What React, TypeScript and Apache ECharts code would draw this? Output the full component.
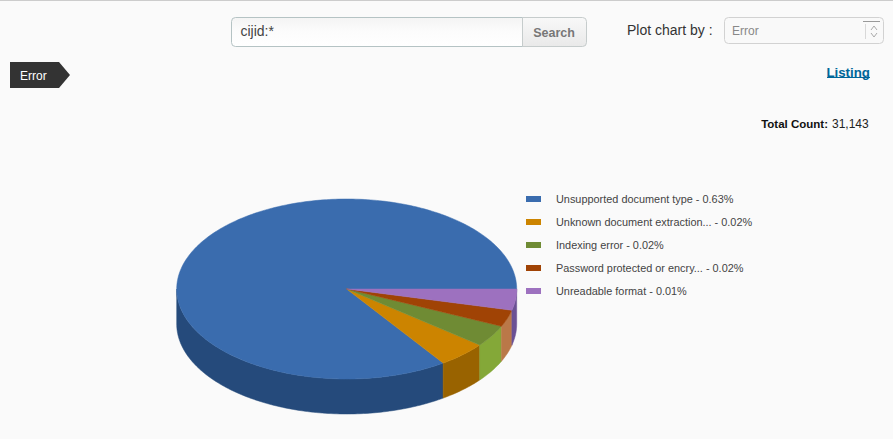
import React, { useEffect, useRef } from "react";
import * as echarts from "echarts";

const categories = [
  "Unsupported document type",
  "Unknown document extraction...",
  "Indexing error",
  "Password protected or encry...",
  "Unreadable format",
];
const legendPercents = ["0.63%", "0.02%", "0.02%", "0.02%", "0.01%"];
// slice sizes, in percent of the full circle
const sliceValues = [84.6, 4.7, 3.9, 3.0, 3.8];
const topColors = ["#3a6cae", "#cc8400", "#6f8b34", "#a04305", "#9d71bf"];
const sideColors = ["#254a7b", "#996300", "#84a838", "#ba7848", "#6b5194"];
const searchText = "cijid:*";
const tagText = "Error";
const totalCount = "31,143";

const FONT = "Arial, 'Liberation Sans', sans-serif";
const CX = 346.7, CY = 289, RX = 170, RY = 90, DEPTH = 35;

function rim(deg: number, dy = 0): number[] {
  const t = (deg * Math.PI) / 180;
  return [CX + RX * Math.cos(t), CY + RY * Math.sin(t) + dy];
}

function arcPoints(a0: number, a1: number, dy = 0): number[][] {
  const n = Math.max(2, Math.ceil(Math.abs(a1 - a0)));
  const out: number[][] = [];
  for (let i = 0; i <= n; i++) out.push(rim(a0 + ((a1 - a0) * i) / n, dy));
  return out;
}

function sliceRanges() {
  const total = sliceValues.reduce((s, v) => s + v, 0);
  let cum = 0;
  return sliceValues.map((v) => {
    const start = 360 - (cum / total) * 360;
    cum += v;
    return [360 - (cum / total) * 360, start];
  });
}

function renderSlice(i: number) {
  return (_p: any, api: any) => {
    const a0 = api.value(0) as number;
    const a1 = api.value(1) as number;
    const children: any[] = [];
    const s0 = Math.max(a0, 0);
    const s1 = Math.min(a1, 180);
    // the wall is visible on the front half of the ellipse only
    if (a0 < 180 && s1 > s0) {
      children.push({
        type: "polygon",
        shape: { points: [...arcPoints(s0, s1), ...arcPoints(s1, s0, DEPTH)] },
        style: { fill: sideColors[i], stroke: sideColors[i], lineWidth: 0.5 },
      });
    }
    children.push({
      type: "polygon",
      shape: { points: [[CX, CY], ...arcPoints(a0, a1)] },
      style: { fill: topColors[i], stroke: topColors[i], lineWidth: 0.5 },
    });
    return { type: "group", children };
  };
}

export default function App() {
  const ref = useRef<HTMLDivElement>(null);
  useEffect(() => {
    const chart = echarts.init(ref.current!, undefined, { renderer: "svg" });
    const ranges = sliceRanges();
    const labelOf = (name: string) => {
      const i = categories.indexOf(name);
      return `${name} - ${legendPercents[i]}`;
    };
    chart.setOption({
      animation: false,
      backgroundColor: "#fafafa",
      legend: {
        show: true,
        orient: "vertical",
        left: 526,
        top: 192,
        padding: 0,
        itemWidth: 15,
        itemHeight: 6,
        itemGap: 9,
        icon: "rect",
        selectedMode: false,
        data: categories,
        formatter: labelOf,
        textStyle: {
          fontFamily: FONT,
          fontSize: 10.9,
          color: "#444",
          padding: [0, 0, 0, 10],
          lineHeight: 14,
        },
      },
      series: categories.map((name, i) => ({
        type: "custom",
        name,
        coordinateSystem: "none",
        silent: true,
        itemStyle: { color: topColors[i] },
        data: [ranges[i]],
        renderItem: renderSlice(i),
      })),
      graphic: [
        { type: "rect", shape: { x: 0, y: 0, width: 893, height: 1 }, style: { fill: "#cccccc" } },
        // search box
        {
          type: "rect",
          shape: { x: 231.5, y: 17.5, width: 292, height: 29, r: [4, 0, 0, 4] },
          style: {
            fill: new echarts.graphic.LinearGradient(0, 0, 0, 1, [
              { offset: 0, color: "#f4f4f4" },
              { offset: 0.5, color: "#fcfcfc" },
              { offset: 1, color: "#ffffff" },
            ]),
            stroke: "#b5c3c4",
          },
        },
        { type: "text", x: 240.5, y: 31, style: { text: searchText, font: `14px ${FONT}`, fill: "#444", verticalAlign: "middle" } },
        // search button
        {
          type: "rect",
          shape: { x: 522.5, y: 17.5, width: 64, height: 29, r: [0, 4, 4, 0] },
          style: {
            fill: new echarts.graphic.LinearGradient(0, 0, 0, 1, [
              { offset: 0, color: "#f8f8f8" },
              { offset: 1, color: "#e9e9e9" },
            ]),
            stroke: "#c6cccc",
          },
        },
        { type: "text", x: 554, y: 32.5, style: { text: "Search", font: `bold 12.5px ${FONT}`, fill: "#777", align: "center", verticalAlign: "middle" } },
        { type: "text", x: 627, y: 30, style: { text: "Plot chart by :", font: `14px ${FONT}`, fill: "#333", verticalAlign: "middle" } },
        // select
        {
          type: "rect",
          shape: { x: 724.5, y: 17.5, width: 159, height: 26, r: 4 },
          style: { fill: "#f9f9f9", stroke: "#d2d2d2" },
        },
        { type: "text", x: 732, y: 31, style: { text: tagText, font: `12px ${FONT}`, fill: "#888", verticalAlign: "middle" } },
        { type: "line", shape: { x1: 863, y1: 21.5, x2: 880, y2: 21.5 }, style: { stroke: "#999", lineWidth: 1 } },
        { type: "line", shape: { x1: 865.5, y1: 24, x2: 865.5, y2: 39 }, style: { stroke: "#d8d8d8", lineWidth: 1 } },
        { type: "polyline", shape: { points: [[871, 30], [874, 26], [877, 30]] }, style: { fill: "none", stroke: "#aaa", lineWidth: 1 } },
        { type: "polyline", shape: { points: [[871, 33], [874, 37], [877, 33]] }, style: { fill: "none", stroke: "#aaa", lineWidth: 1 } },
        // tag
        {
          type: "polygon",
          shape: { points: [[10, 62], [59, 62], [70, 75], [59, 88], [10, 88]] },
          style: { fill: "#333333" },
        },
        { type: "text", x: 20, y: 75.5, style: { text: tagText, font: `12px ${FONT}`, fill: "#ffffff", verticalAlign: "middle" } },
        // listing link
        { type: "text", x: 870, y: 72, style: { text: "Listing", font: `bold 13.3px ${FONT}`, fill: "#006699", align: "right", verticalAlign: "middle" } },
        { type: "line", shape: { x1: 827, y1: 77.5, x2: 870, y2: 77.5 }, style: { stroke: "#006699", lineWidth: 1 } },
        // total count
        { type: "text", x: 828, y: 123.5, style: { text: "Total Count:", font: `bold 11.5px ${FONT}`, fill: "#111", align: "right", verticalAlign: "middle" } },
        { type: "text", x: 832, y: 123.5, style: { text: totalCount, font: `12px ${FONT}`, fill: "#222", verticalAlign: "middle" } },
      ],
    });
    return () => chart.dispose();
  }, []);
  return <div ref={ref} style={{ position: "absolute", left: 0, top: 0, width: 893, height: 439 }} />;
}
